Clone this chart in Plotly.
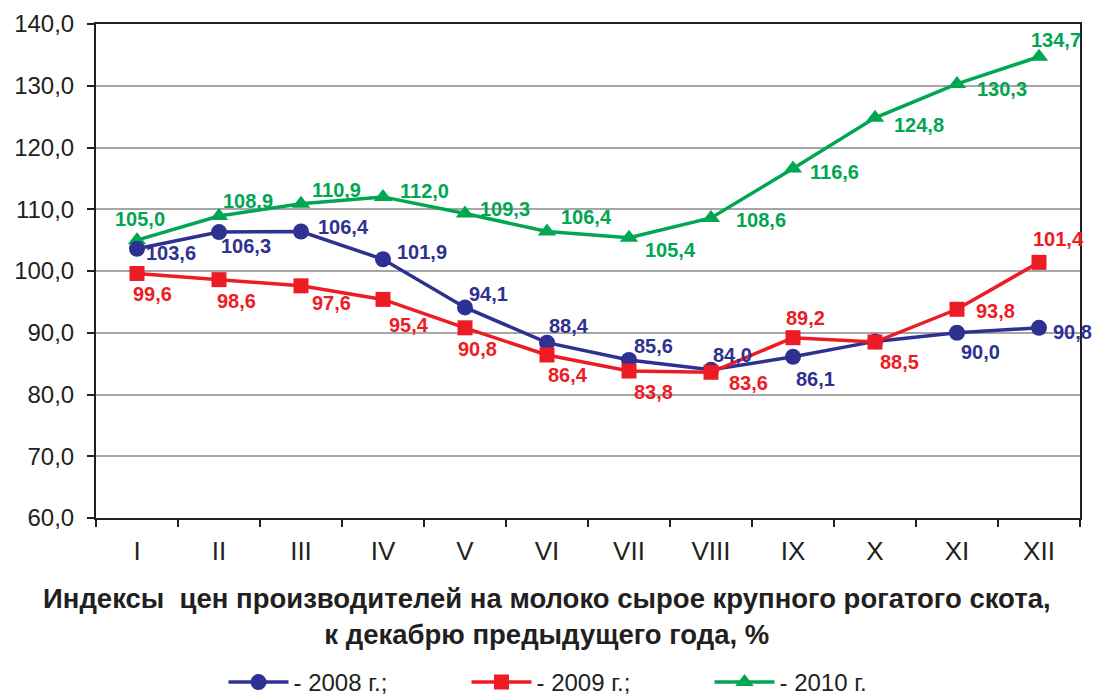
import plotly.graph_objects as go

# Месяцы (римские цифры) и индексы цен, % к декабрю предыдущего года
months = ["I", "II", "III", "IV", "V", "VI", "VII", "VIII", "IX", "X", "XI", "XII"]
idx_2008 = [103.6, 106.3, 106.4, 101.9, 94.1, 88.4, 85.6, 84.0, 86.1, 88.6, 90.0, 90.8]
idx_2009 = [99.6, 98.6, 97.6, 95.4, 90.8, 86.4, 83.8, 83.6, 89.2, 88.5, 93.8, 101.4]
idx_2010 = [105.0, 108.9, 110.9, 112.0, 109.3, 106.4, 105.4, 108.6, 116.6, 124.8, 130.3, 134.7]
# which points carry a value label (2008, October is unlabeled)
show_2008 = [True] * 9 + [False] + [True] * 2
show_2009 = [True] * 12
show_2010 = [True] * 12

names = ["- 2008 г.;", "- 2009 г.;", "- 2010 г."]
title_text = ("Индексы  цен производителей на молоко сырое крупного рогатого скота,"
              "<br>к декабрю предыдущего года, %")

BLUE, RED, GREEN = "#2E3192", "#ED1C24", "#00A651"
INK = "#231F20"
FONT = "Liberation Sans, Arial, sans-serif"

# label offsets (px) relative to each point: (right, down)
off_2008 = [(34, 4), (27, 14), (42, -4), (39, -7), (23, -13), (22, -17),
            (24, -14), (21, -15), (22, 22), (0, 0), (23, 19), (33, 4)]
off_2009 = [(15, 21), (17, 21), (30, 17), (26, 26), (12, 21), (21, 20),
            (24, 21), (37, 11), (12, -20), (24, 20), (38, 2), (19, -23)]
off_2010 = [(3, -21), (29, -15), (35, -14), (41, -6), (40, -5), (39, -14),
            (41, 12), (50, 2), (41, 3), (44, 7), (45, 5), (17, -17)]

series = [
    # (values, name, colour, symbol, size, labels shown, offsets, legend rank)
    (idx_2010, names[2], GREEN, "triangle-up", 16, show_2010, off_2010, 3),
    (idx_2008, names[0], BLUE, "circle", 16, show_2008, off_2008, 1),
    (idx_2009, names[1], RED, "square", 15, show_2009, off_2009, 2),
]

fig = go.Figure()
annotations = []
for vals, name, color, symbol, msize, shown, offs, rank in series:
    fig.add_trace(go.Scatter(
        x=months, y=vals, name=name, mode="lines+markers",
        line=dict(color=color, width=3.5),
        marker=dict(symbol=symbol, size=msize, color=color),
        legendrank=rank,
    ))
    for m, v, s, (dx, dy) in zip(months, vals, shown, offs):
        if not s:
            continue
        annotations.append(dict(
            x=m, y=v, xref="x", yref="y", showarrow=False,
            text=f"{v:.1f}".replace(".", ","),
            xshift=dx, yshift=-dy, xanchor="center", yanchor="middle",
            font=dict(family=FONT, size=20, color=color, weight="bold"),
        ))

annotations.append(dict(
    x=0.458, y=-0.128, xref="paper", yref="paper", showarrow=False,
    text=title_text, xanchor="center", yanchor="top", align="center",
    font=dict(family=FONT, size=27.5, color=INK, weight="bold"),
))

fig.update_layout(
    width=1093, height=700,
    margin=dict(l=96, r=13, t=24, b=182, autoexpand=False),
    paper_bgcolor="white", plot_bgcolor="white",
    separators=", ",
    showlegend=True,
    legend=dict(
        orientation="h", x=0.5, xanchor="center", y=-0.333, yanchor="middle",
        font=dict(family=FONT, size=24, color=INK),
        entrywidth=168, itemwidth=60, traceorder="normal",
    ),
    annotations=annotations,
)
fig.update_xaxes(
    type="category", range=[-0.5, 11.5], tickson="boundaries",
    ticks="outside", ticklen=7, tickwidth=2, tickcolor=INK,
    showline=True, linecolor=INK, linewidth=2, mirror=True,
    showgrid=False, ticklabelstandoff=9, automargin=False,
    tickfont=dict(family=FONT, size=26, color=INK),
)
fig.update_yaxes(
    range=[60, 140], dtick=10, tickformat=".1f",
    ticks="outside", ticklen=7, tickwidth=2, tickcolor=INK,
    showline=True, linecolor=INK, linewidth=2, mirror=True,
    showgrid=True, gridcolor="#A6A6A6", gridwidth=1.5,
    zeroline=False, ticklabelstandoff=8, automargin=False,
    tickfont=dict(family=FONT, size=24, color=INK),
)

fig.write_html("out.html")
